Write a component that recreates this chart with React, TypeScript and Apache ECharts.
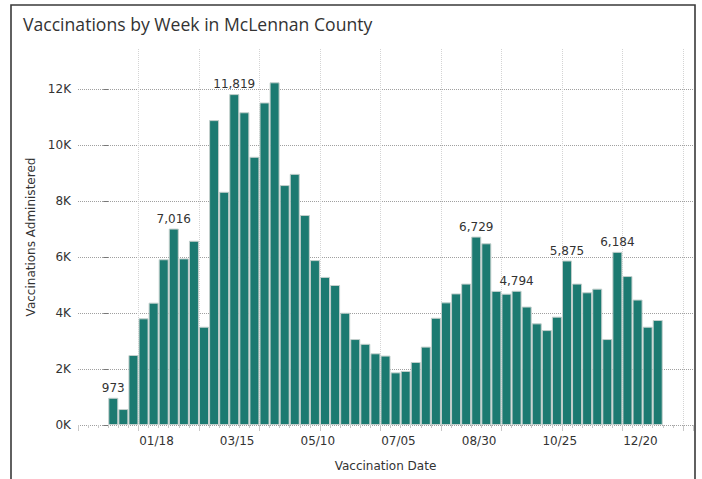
import React, { useEffect, useRef } from "react";
import * as echarts from "echarts";

// Weekly vaccinations (week-ending dates, first week ending 2020-12-19)
const firstWeek = "2020-12-19";
const weeklyDoses = [
  973, 570, 2500, 3810, 4370, 5920, 7016, 5950, 6580, 3510,
  10890, 8330, 11819, 11170, 9580, 11520, 12240, 8570, 8970, 7500,
  5890, 5290, 5000, 4010, 3070, 2900, 2560, 2480, 1880, 1930,
  2250, 2800, 3830, 4380, 4700, 5050, 6729, 6490, 4790, 4690,
  4794, 4230, 3630, 3390, 3870, 5875, 5050, 4740, 4870, 3070,
  6184, 5320, 4480, 3510, 3750,
];
const labelledDoses = [973, 7016, 11819, 6729, 4794, 5875, 6184];

const tickDates = ["2021-01-18", "2021-03-15", "2021-05-10", "2021-07-05", "2021-08-30", "2021-10-25", "2021-12-20"];
const tickLabels = ["01/18", "03/15", "05/10", "07/05", "08/30", "10/25", "12/20"];
const yTicks = [0, 2000, 4000, 6000, 8000, 10000, 12000];

const DAY = 86400000;
const toTs = (s: string) => {
  const [y, m, d] = s.split("-").map(Number);
  return Date.UTC(y, m - 1, d);
};

export default function App() {
  const ref = useRef<HTMLDivElement>(null);
  useEffect(() => {
    if (!ref.current) return;
    const chart = echarts.init(ref.current, null, { renderer: "svg" });
    const start = toTs(firstWeek);
    const weekDates = weeklyDoses.map((_, i) => start + i * 7 * DAY);
    const tickTs = tickDates.map(toTs);
    const axisFont = "DejaVu Sans";
    const tMin = start - 24.5 * DAY;
    const tMax = start + 402.5 * DAY;
    chart.setOption({
      animation: false,
      title: {
        text: "Vaccinations by Week in McLennan County",
        left: 18,
        top: 10,
        textStyle: { fontFamily: "Open Sans", fontSize: 17.6, fontWeight: "normal", color: "#333" },
      },
      graphic: [
        {
          type: "rect",
          shape: { x: 11, y: 5, width: 684, height: 520 },
          style: { fill: "none", stroke: "#3a3a3a", lineWidth: 1.6 },
          silent: true,
        },
      ],
      grid: { left: 78, right: 9, top: 49, bottom: 54 },
      xAxis: [
        {
          type: "value",
          position: "bottom",
          min: tMin,
          max: tMax,
          name: "Vaccination Date",
          nameLocation: "middle",
          nameGap: 35,
          nameTextStyle: { fontFamily: axisFont, fontSize: 12, color: "#333" },
          axisLine: { show: false },
          axisTick: { show: false },
          splitLine: { show: false },
          axisLabel: {
            customValues: tickTs,
            margin: 10,
            fontFamily: axisFont,
            fontSize: 12,
            color: "#333",
            formatter: (v: number) => {
              const i = tickTs.indexOf(v);
              return i >= 0 ? tickLabels[i] : "";
            },
          },
        },
        {
          type: "value",
          position: "bottom",
          min: -3,
          max: 58,
          interval: 1,
          axisLine: { show: false },
          axisLabel: { show: false },
          splitLine: { show: false },
          axisTick: { show: true, length: 3, lineStyle: { color: "#c8c8c8" } },
        },
        {
          type: "value",
          position: "bottom",
          min: -3,
          max: 58,
          interval: 6,
          axisLine: { show: false },
          axisLabel: { show: false },
          axisTick: { show: true, length: 6, lineStyle: { color: "#c8c8c8" } },
          splitLine: {
            show: true,
            showMinLine: false,
            showMaxLine: false,
            lineStyle: { color: "#d4d4d4", type: "dotted", width: 1 },
          },
        },
      ],
      yAxis: {
        type: "value",
        min: 0,
        max: 13430,
        interval: 2000,
        name: "Vaccinations Administered",
        nameLocation: "middle",
        nameGap: 38,
        nameRotate: 90,
        nameTextStyle: { fontFamily: axisFont, fontSize: 12, color: "#333" },
        axisLine: { show: false },
        axisTick: { show: true, length: 5, customValues: yTicks, lineStyle: { color: "#777" } },
        axisLabel: {
          customValues: yTicks,
          margin: 7,
          fontFamily: axisFont,
          fontSize: 12,
          color: "#333",
          formatter: (v: number) => v / 1000 + "K",
        },
        splitLine: {
          show: true,
          showMinLine: true,
          showMaxLine: true,
          lineStyle: { color: "#a0a0a0", type: "dotted", width: 1 },
        },
      },
      series: [
        {
          type: "bar",
          xAxisIndex: 0,
          yAxisIndex: 0,
          barWidth: 10,
          data: weeklyDoses.map((v, i) => [weekDates[i], v]),
          itemStyle: { color: "#1c7a71", borderColor: "#c3cfcc", borderWidth: 1 },
          label: {
            show: true,
            position: "top",
            distance: 4,
            fontFamily: axisFont,
            fontSize: 12,
            color: "#333",
            formatter: (p: any) => {
              const v = p.value[1];
              return labelledDoses.includes(v) ? v.toLocaleString("en-US") : "";
            },
          },
        },
      ],
    });
    return () => chart.dispose();
  }, []);
  return (
    <div
      ref={ref}
      style={{ position: "fixed", left: 0, top: 0, width: 702, height: 479, background: "#fff" }}
    />
  );
}
